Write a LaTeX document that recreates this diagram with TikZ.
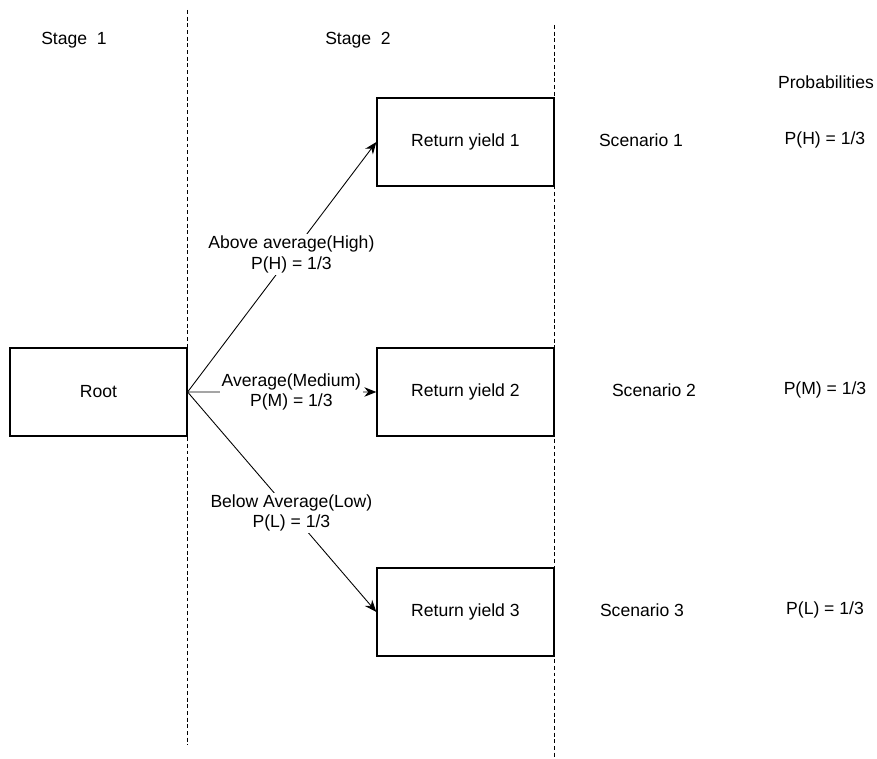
\documentclass[tikz,border=0pt]{standalone}
\usepackage{fontspec}
\setmainfont{Liberation Sans}
\usetikzlibrary{trees,positioning,arrows.meta}

\begin{document}
\begin{tikzpicture}
[x=0.02cm,y=-0.02cm,
font=\fontsize{10}{11.5}\selectfont,
yieldbox/.style={draw,line width=0.7pt,minimum width=3.54cm,minimum height=1.76cm},
branchlabel/.style={fill=white,align=center,inner sep=1pt,pos=0.55},
stageline/.style={line width=0.5pt,dash pattern=on 2.2pt off 1.6pt},
level 1/.style={level distance=7.34cm,
sibling distance=5cm},
edge from parent/.style={draw,line width=0.5pt,-{Stealth[length=2.4mm,width=1.9mm]}}]
\useasboundingbox (0,0) rectangle (877,759);
% stage boundaries
\draw[stageline] (187,10) -- (187,745);
\draw[stageline] (554,25) -- (554,757);
\node (stage1) at (74,40) {Stage~~1};
\node (stage2) at (358,40) {Stage~~2};
\node (probs) at (826,82) {Probabilities};
% tree
\node[yieldbox] (root) at (98.5,392) {Root} [grow'=right,parent anchor=east,child anchor=west]
child {node[yieldbox] (yield1) {Return yield 1}
edge from parent node[branchlabel] {Above average(High)\\P(H) = 1/3}
}
child {node[yieldbox] (yield2) {Return yield 2}
edge from parent node[branchlabel] {Average(Medium)\\P(M) = 1/3}
}
child {node[yieldbox,yshift=0.6cm] (yield3) {Return yield 3}
edge from parent node[branchlabel] {Below Average(Low)\\P(L) = 1/3}
};
% scenarios
\node (scen1) at (641,140) {Scenario 1};
\node (scen2) at (654,390) {Scenario 2};
\node (scen3) at (642,610) {Scenario 3};
\node (prob1) at (825,140) {P(H) = 1/3};
\node (prob2) at (825,390) {P(M) = 1/3};
\node (prob3) at (825,610) {P(L) = 1/3};
\end{tikzpicture}
\end{document}
